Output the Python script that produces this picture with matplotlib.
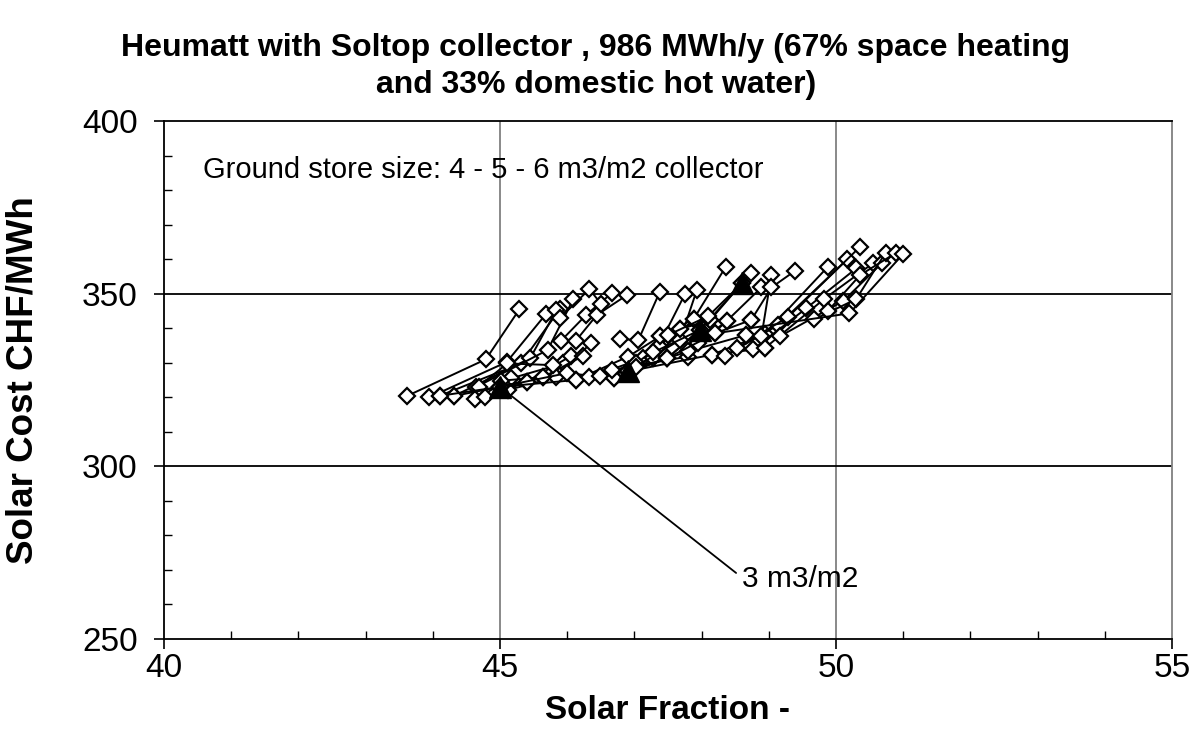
import numpy as np
import matplotlib
matplotlib.use("Agg")
import matplotlib.pyplot as plt
from matplotlib.ticker import MultipleLocator

plt.rcParams['font.family'] = ['Liberation Sans', 'DejaVu Sans']

# store size 4 - 5 - 6 m3/m2: solar fraction (x) and solar cost (y) per variant
sf_series = [
    [43.62, 44.79, 45.29],
    [43.95, 45.10, 45.68],
    [44.10, 45.31, 45.89],
    [44.32, 45.45, 45.84],
    [44.64, 45.71, 46.09],
    [44.63, 45.17, 45.94],
    [44.78, 45.40, 46.06],
    [45.02, 45.64, 46.24],
    [45.12, 45.83, 46.35],
    [44.68, 45.11, 45.79],
    [44.32, 45.00, 45.64],
    [44.10, 45.00, 45.40],
    [45.00, 46.13, 46.91],
    [45.00, 46.00, 46.69],
    [45.91, 46.28, 46.66],
    [46.13, 46.44, 46.89],
    [45.89, 46.33, 46.51],
    [46.13, 46.91, 47.38],
    [46.33, 47.13, 47.68],
    [46.49, 47.28, 47.88],
    [46.69, 47.49, 48.13],
    [46.66, 47.80, 48.38],
    [46.91, 47.49, 47.98],
    [46.91, 48.15, 48.94],
    [46.91, 47.80, 48.66],
    [46.79, 47.06, 47.38],
    [47.03, 47.36, 47.75],
    [47.02, 47.68, 47.93],
    [47.38, 47.88, 48.36],
    [47.68, 48.13, 48.74],
    [47.95, 48.38, 48.89],
    [47.28, 47.98, 48.60],
    [47.50, 48.10, 48.60],
    [48.15, 48.94, 49.88],
    [48.35, 49.14, 50.17],
    [48.52, 49.29, 50.36],
    [48.77, 49.56, 50.30],
    [48.94, 49.82, 50.55],
    [49.17, 50.11, 50.68],
    [49.68, 50.30, 50.74],
    [49.88, 50.36, 50.90],
    [48.20, 50.20, 51.00],
    [48.66, 48.89, 49.04],
    [48.74, 49.04, 49.39],
    [47.49, 48.20, 48.74],
]
cost_series = [
    [320.4, 331.0, 345.5],
    [320.0, 330.2, 344.0],
    [320.4, 329.8, 345.5],
    [320.4, 331.3, 345.3],
    [322.9, 333.7, 348.4],
    [319.4, 325.5, 329.8],
    [320.0, 324.5, 332.0],
    [324.8, 325.8, 332.0],
    [322.1, 325.8, 335.6],
    [323.1, 329.8, 329.3],
    [320.4, 323.0, 326.0],
    [320.4, 323.0, 324.5],
    [323.0, 325.0, 327.5],
    [323.0, 327.0, 325.5],
    [336.4, 343.8, 350.1],
    [336.4, 343.8, 349.6],
    [342.9, 351.3, 346.9],
    [325.0, 331.8, 337.6],
    [325.8, 331.3, 339.7],
    [326.2, 331.3, 342.6],
    [325.5, 331.3, 342.4],
    [327.9, 331.8, 342.2],
    [327.5, 331.3, 339.5],
    [327.5, 332.3, 334.2],
    [327.5, 333.3, 338.0],
    [336.8, 336.6, 350.6],
    [329.8, 334.8, 349.8],
    [328.9, 336.6, 351.1],
    [337.6, 342.6, 357.8],
    [339.7, 342.4, 356.1],
    [335.6, 342.2, 351.8],
    [333.0, 339.5, 353.0],
    [338.0, 343.5, 353.0],
    [332.3, 338.3, 357.8],
    [332.0, 340.9, 360.0],
    [334.2, 343.3, 363.6],
    [333.9, 345.8, 357.3],
    [334.2, 348.4, 358.8],
    [337.7, 347.9, 358.8],
    [342.6, 348.4, 361.9],
    [345.0, 355.4, 361.9],
    [338.5, 344.3, 361.5],
    [338.0, 337.6, 355.4],
    [342.4, 351.8, 356.6],
    [331.3, 338.5, 342.4],
]

# store size 3 m3/m2
sf_3 = [45.0, 46.91, 47.98, 48.6]
cost_3 = [323.0, 327.5, 339.5, 353.0]

fig = plt.figure(figsize=(11.92, 7.4), dpi=100)
ax = fig.add_axes([0.1376, 0.1365, 0.8456, 0.7])

for xs, ys in zip(sf_series, cost_series):
    ax.plot(xs, ys, color='black', lw=1.4, marker='D', markersize=8,
            markerfacecolor='white', markeredgecolor='black', mew=1.6, zorder=3)

ax.plot(sf_3, cost_3, ls='none', marker='^', markersize=16, color='black', zorder=4)

ax.set_xlim(40, 55)
ax.set_ylim(250, 400)
ax.xaxis.set_major_locator(MultipleLocator(5))
ax.xaxis.set_minor_locator(MultipleLocator(1))
ax.yaxis.set_major_locator(MultipleLocator(50))
ax.yaxis.set_minor_locator(MultipleLocator(10))

for v in [45, 50]:
    ax.axvline(v, color='#808080', lw=1.3, zorder=1)
for v in [300, 350]:
    ax.axhline(v, color='black', lw=1.3, zorder=1)

ax.tick_params(axis='both', which='major', direction='out', length=7, width=1.2,
               labelsize=24, pad=3)
ax.tick_params(axis='y', which='major', pad=12)
ax.tick_params(axis='both', which='minor', direction='in', length=6, width=1.0)
ax.spines['right'].set_color('#808080')
for s in ax.spines.values():
    s.set_linewidth(1.3)

ax.set_xlabel('Solar Fraction -', fontsize=24, fontweight='bold', labelpad=8)
ax.set_ylabel('Solar Cost CHF/MWh', fontsize=26.5, fontweight='bold', labelpad=30)
fig.suptitle('Heumatt with Soltop collector , 986 MWh/y (67% space heating\nand 33% domestic hot water)',
             fontsize=23, fontweight='bold', x=0.5, y=0.955, linespacing=1.3)

ax.text(40.58, 385.8, 'Ground store size: 4 - 5 - 6 m3/m2 collector', fontsize=21,
        va='center', ha='left')
ax.annotate('3 m3/m2', xy=(45.0, 323.0), xytext=(48.6, 267.5), fontsize=21.5,
            va='center', ha='left',
            arrowprops=dict(arrowstyle='-', color='black', lw=1.3, shrinkA=0, shrinkB=0,
                            relpos=(-0.05, 0.7)))

fig.savefig('out.png', dpi=100)
